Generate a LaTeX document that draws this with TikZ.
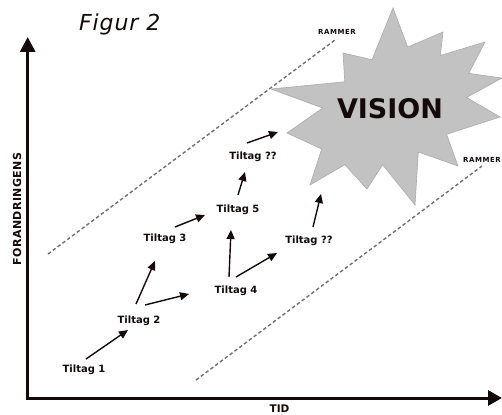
\documentclass[tikz,border=0pt]{standalone}
\usepackage{fontspec}
\usepackage{tikz}
\usetikzlibrary{arrows.meta}
\setmainfont{DejaVu Sans}
\definecolor{mork}{HTML}{140A0A}
\definecolor{stjerne}{HTML}{C2C2C2}
\definecolor{stjernekant}{HTML}{ABABAB}
\definecolor{ramme}{HTML}{707070}

\tikzset{
  tiltag/.style={font=\bfseries\fontsize{10}{12}\selectfont, text=mork, anchor=base, inner sep=0pt},
  pil/.style={-{Triangle[length=9pt,width=8pt]}, line width=1.4pt, mork},
  akse/.style={{Triangle[length=15pt,width=15pt]}-{Triangle[length=14pt,width=15pt]}, line width=3pt, mork},
  rammelinje/.style={ramme, line width=1.4pt, dash pattern=on 3.5pt off 2.5pt},
  rammetekst/.style={font=\bfseries\fontsize{7}{8}\selectfont\addfontfeatures{LetterSpace=8}, text=mork, inner sep=0pt},
}

\begin{document}
\begin{tikzpicture}[x=1pt, y=-1pt]
			\useasboundingbox (0,0) rectangle (502,414);
			% Titel
			\node[font=\itshape\fontsize{22}{26}\selectfont\addfontfeatures{LetterSpace=4}, text=mork, anchor=base west, inner sep=0pt] (figur) at (79,30.7) {Figur 2};
			% Akser
			\coordinate (origo) at (27.7,398);
			\coordinate (ytop) at (27.7,37);
			\coordinate (xend) at (502,398);
			\draw[akse] (ytop) -- (origo) -- (xend);
			\node[font=\bfseries\fontsize{11}{13}\selectfont\addfontfeatures{LetterSpace=4}, text=mork, rotate=90, inner sep=0pt] (yakse) at (17,209) {FORANDRINGENS};
			\node[font=\bfseries\fontsize{10.5}{12}\selectfont, text=mork, inner sep=0pt] (xakse) at (279.5,409) {TID};
			% Rammer
			\coordinate (r1a) at (48,254);
			\coordinate (r1b) at (335,40);
			\coordinate (r2a) at (196,380);
			\coordinate (r2b) at (482,166);
			\draw[rammelinje] (r1a) -- (r1b);
			\draw[rammelinje] (r2a) -- (r2b);
			\node[rammetekst] (ramme1) at (337,32.3) {RAMMER};
			\node[rammetekst] (ramme2) at (482,159.5) {RAMMER};
			% Vision
			\filldraw[fill=stjerne, draw=stjernekant, line width=0.6pt, line join=miter]
				(393,8) -- (407.7,47) -- (443,32) -- (440.3,55.5) -- (485,42) -- (468.7,73.4)
				-- (502,78) -- (466.6,97.5) -- (500,117) -- (446.6,134.3) -- (458,166) -- (418.3,152)
				-- (415,205) -- (382.6,164.7) -- (367,189) -- (344.8,164.7) -- (310,185) -- (321.7,149)
				-- (287,133) -- (322.7,108) -- (271,89) -- (344.8,81.8) -- (343,53) -- (372,59.7) -- cycle;
			\node[font=\bfseries\fontsize{27}{30}\selectfont, text=mork, inner sep=0pt] (vision) at (390,109) {VISION};
			% Tiltag
			\node[tiltag] (t1) at (84,372) {Tiltag 1};
			\node[tiltag] (t2) at (139,323) {Tiltag 2};
			\node[tiltag] (t3) at (165,241) {Tiltag 3};
			\node[tiltag] (t4) at (236,293) {Tiltag 4};
			\node[tiltag] (t5) at (238,212) {Tiltag 5};
			\node[tiltag] (tq1) at (253,159) {Tiltag ??};
			\node[tiltag] (tq2) at (309,243) {Tiltag ??};
			% Pile
			\draw[pil] ([shift={(2,-13)}]t1.base) -- ([shift={(-11,7)}]t2.base);
			\draw[pil] ([shift={(-3,-19)}]t2.base) -- ([shift={(-10,20)}]t3.base);
			\draw[pil] ([shift={(6,-18)}]t2.base) -- ([shift={(-47,1)}]t4.base);
			\draw[pil] ([shift={(10,-14)}]t3.base) -- ([shift={(-33,3)}]t5.base);
			\draw[pil] ([shift={(-7,-16)}]t4.base) -- ([shift={(-7,18)}]t5.base);
			\draw[pil] ([shift={(0,-16)}]t4.base) -- ([shift={(-32,10)}]tq2.base);
			\draw[pil] ([shift={(0,-17)}]t5.base) -- ([shift={(-8,13)}]tq1.base);
			\draw[pil] ([shift={(-6,-16)}]tq1.base) -- ([shift={(-112,23)}]vision.center);
			\draw[pil] ([shift={(4,-16)}]tq2.base) -- ([shift={(-69,85)}]vision.center);
		\end{tikzpicture}
\end{document}
